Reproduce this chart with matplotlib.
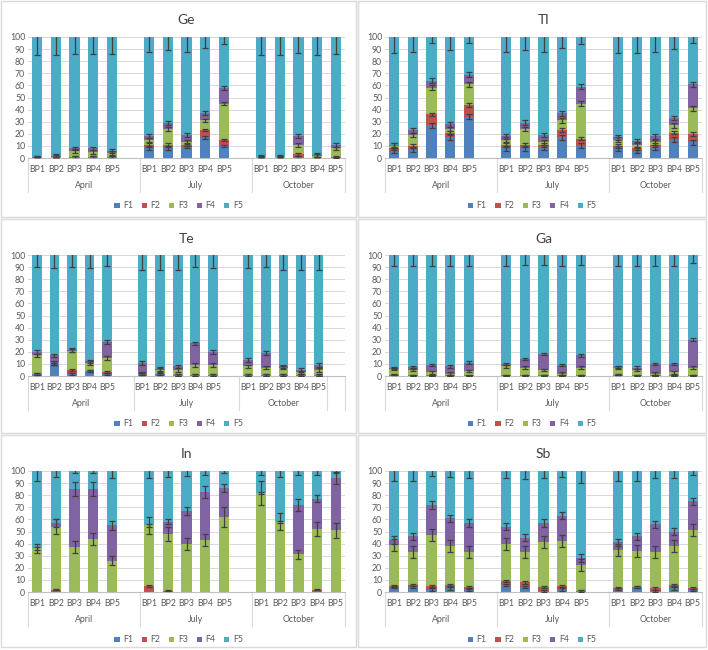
import numpy as np
import matplotlib
matplotlib.use("Agg")
import matplotlib.pyplot as plt
from matplotlib.patches import Rectangle, Patch
from matplotlib.transforms import blended_transform_factory

plt.rcParams["font.family"] = ["Lato", "DejaVu Sans"]

W, H = 708, 650
months = ["April", "July", "October"]
sites = ["BP1", "BP2", "BP3", "BP4", "BP5"]
fractions = ["F1", "F2", "F3", "F4", "F5"]
colors = ["#4F81BD", "#C0504D", "#9BBB59", "#8064A2", "#4BACC6"]

# cumulative top of F1..F4 (percent), 15 bars: April BP1-5, July BP1-5, October BP1-5
ge_cum = [
    [0, 0, 0.5, 0.5, 0.5, 8, 8, 9, 17, 10, 0, 0, 0.5, 0, 0],
    [0, 0, 0.5, 0.5, 0.5, 11, 11, 11, 23, 15, 0, 0, 3, 0, 1],
    [0, 1, 6, 5, 4, 15, 24, 13, 31, 45, 0.5, 0.5, 11, 2, 8],
    [0.5, 2, 8, 8, 6, 18, 29, 19, 37, 58, 1, 1, 18, 2.5, 11],
]
ge_err = [1, 1, 1.5, 1.5]
ge_err5 = [15, 15, 14, 14, 14, 12, 11, 12, 9, 6, 15, 15, 13, 15, 14]

tl_cum = [
    [6, 7, 27, 17, 34, 8, 8, 9, 17, 10, 8, 6, 9, 15, 13],
    [8, 10, 36, 21, 44, 11, 11, 11, 23, 16, 10, 8, 11, 21, 20],
    [10, 19, 58, 24, 61, 15, 24, 13, 31, 45, 15, 11, 13, 27, 41],
    [10.5, 23, 64, 28, 69, 18, 29, 19, 37, 59, 17, 14, 18, 33, 61],
]
tl_err = [2, 1.5, 2, 2]
tl_err5 = [13, 12, 5, 11, 5, 12, 11, 12, 9, 6, 13, 13, 12, 10, 5]

te_cum = [
    [1.5, 10, 2, 4, 2, 1.5, 2, 0.5, 0.5, 0.5, 0.5, 0.5, 0.5, 0.5, 0.5],
    [1.5, 10, 5, 4, 3.5, 1.5, 2, 1, 0.5, 1, 0.5, 0.5, 1, 0.5, 1],
    [17, 11, 21, 11, 15, 2, 5, 5, 9, 9, 8, 7, 7, 3, 5],
    [20, 17, 21.5, 12, 28, 11, 6, 8, 27, 20, 13, 19, 8, 5, 9],
]
te_err = [0.8, 0.8, 1.5, 1.5]
te_err5 = [10, 11, 10, 11, 9, 12, 12, 12, 10, 11, 11, 10, 12, 12.5, 12]

ga_cum = [
    [1, 0.5, 0.5, 0.5, 0.5, 0.5, 0.5, 0.5, 0.5, 0.5, 1, 0.5, 0.5, 0.5, 0.5],
    [1, 0.5, 0.5, 0.5, 0.5, 0.5, 0.5, 0.5, 0.5, 0.5, 1, 0.5, 0.5, 0.5, 0.5],
    [6, 5, 3, 2, 4, 8, 7, 5, 2, 7, 7, 5, 2, 3, 7],
    [6.5, 7.5, 9, 8, 11, 10, 14, 18, 9, 17, 7.5, 7, 10, 10, 30],
]
ga_err = [0.5, 0.5, 1, 1]
ga_err5 = [9, 9, 9, 9, 9, 9, 8, 8, 9, 8, 9, 9, 9, 9, 7]

in_cum = [
    [0, 0, 0, 0, 0, 0, 0, 0, 0, 0, 0, 0, 0, 0, 0],
    [0, 2, 0, 0, 0, 5, 1, 0, 0, 0, 0, 0, 0, 2, 0],
    [36, 54, 37, 44, 26, 55, 48, 40, 43, 62, 82, 58, 31, 52, 51],
    [36, 57, 85, 85, 55, 55, 58, 67, 83, 86, 82, 58, 72, 77, 94],
]
in_err = [0,
          [0, 0.5, 0, 0, 0, 0.5, 0.5, 0, 0, 0, 0, 0, 0, 0.5, 0],
          [4, 6, 5, 5, 4, 7, 6, 5, 5, 8, 10, 7, 4, 6, 6],
          [1, 3, 6, 6, 4, 1, 2, 3, 5, 3, 1, 1, 5, 3, 5]]
in_err5 = [8, 5, 2, 2, 6, 6, 5, 4, 3, 2, 3, 5, 3, 3, 1.5]

sb_cum = [
    [4, 4, 2, 3, 1.5, 6, 4, 1, 2, 0.5, 2.5, 4, 1, 3, 1.5],
    [5, 6, 5, 6, 4, 9, 8, 4, 5, 1, 3, 4, 3, 6, 3.5],
    [39, 33, 47, 38, 33, 40, 33, 41, 42, 22, 35, 34, 33, 38, 51],
    [43, 46, 72, 61, 57, 54, 45, 57, 63, 28, 41, 46, 56, 50, 75],
]
sb_err = [1, 1, 5, 3]
sb_err5 = [8, 8, 4, 5, 6, 6, 7, 6, 5, 10, 8, 8, 6, 6, 3]

panels = [
    ("Ge", ge_cum, ge_err, ge_err5, False),
    ("Tl", tl_cum, tl_err, tl_err5, False),
    ("Te", te_cum, te_err, te_err5, True),
    ("Ga", ga_cum, ga_err, ga_err5, False),
    ("In", in_cum, in_err, in_err5, False),
    ("Sb", sb_cum, sb_err, sb_err5, False),
]

col_left = [0, 357]
col_width = [357, 350]
row_top = [0, 218, 434]
row_height = [218, 216, 214]

fig = plt.figure(figsize=(W / 100, H / 100), dpi=100)
fig.patch.set_facecolor("white")


def fx(px):
    return px / W


def fy(py):
    return 1 - py / H


xpos = np.array([0, 1, 2, 3, 4, 6, 7, 8, 9, 10, 12, 13, 14, 15, 16])
txt = "#595959"

for i, (name, cum, err, err5, extra) in enumerate(panels):
    c, r = i % 2, i // 2
    pl, pt = col_left[c], row_top[r]
    pw, ph = col_width[c], row_height[r]
    fig.add_artist(Rectangle((fx(pl + 1), fy(pt + ph - 1)), fx(pw - 2), (ph - 2) / H,
                             transform=fig.transFigure, fill=False,
                             edgecolor="#D9D9D9", lw=1))

    ax_l, ax_t, ax_w, ax_h = pl + 28, pt + 37, 317, 121
    ax = fig.add_axes([fx(ax_l), fy(ax_t + ax_h), fx(ax_w), ax_h / H])
    nslots = 18 if extra else 17
    ax.set_xlim(-0.5, nslots - 0.5)
    ax.set_ylim(0, 100)

    cum = np.array(cum, float)
    tops = np.vstack([cum, np.full(15, 100.0)])
    bottoms = np.vstack([np.zeros(15), tops[:-1]])
    errs = [np.broadcast_to(np.asarray(e, float), (15,)) for e in err] + [np.asarray(err5, float)]
    for k in range(5):
        ax.bar(xpos, tops[k] - bottoms[k], bottom=bottoms[k], width=0.55,
               color=colors[k], zorder=2)
    for k in range(5):
        keep = errs[k] > 0
        if not keep.any():
            continue
        ax.errorbar(xpos[keep], tops[k][keep], yerr=errs[k][keep], fmt="none",
                    ecolor="#404040", elinewidth=0.9, capsize=2.2, capthick=0.9,
                    zorder=3)

    ax.set_yticks(np.arange(0, 101, 10))
    ax.yaxis.grid(True, color="#D9D9D9", lw=0.7, zorder=0)
    ax.set_axisbelow(True)
    for s in ["top", "right", "left"]:
        ax.spines[s].set_visible(False)
    ax.spines["bottom"].set_color("#BFBFBF")
    ax.tick_params(axis="y", length=0, labelsize=6.3, labelcolor=txt, pad=2)
    ax.set_xticks(xpos)
    ax.set_xticklabels(sites * 3)
    ax.tick_params(axis="x", length=0, labelsize=6.3, labelcolor=txt, pad=5)

    tr = blended_transform_factory(ax.transData, ax.transAxes)
    seps = [-0.5, 5.5, 11.5, 16.5] + ([17.5] if extra else [])
    for sx in seps:
        ax.plot([sx, sx], [0, -34 / ax_h], transform=tr, color="#D9D9D9",
                lw=0.8, clip_on=False)
    for m, mc in zip(months, [2.5, 8.5, 14.0]):
        ax.text(mc, -28 / ax_h, m, transform=tr, ha="center", va="center",
                fontsize=6.3, color=txt)

    ax.set_title(name, fontsize=10, color="#404040", pad=9)

    handles = [Patch(facecolor=colors[k], label=fractions[k]) for k in range(5)]
    fig.legend(handles=handles, loc="center", ncol=5, frameon=False,
               bbox_to_anchor=(fx(pl + pw / 2), fy(pt + 206)), fontsize=6.3,
               handlelength=0.6, handleheight=0.6, handletextpad=0.4,
               columnspacing=1.0, labelcolor=txt)

fig.savefig("out.png", dpi=100, facecolor="white")
